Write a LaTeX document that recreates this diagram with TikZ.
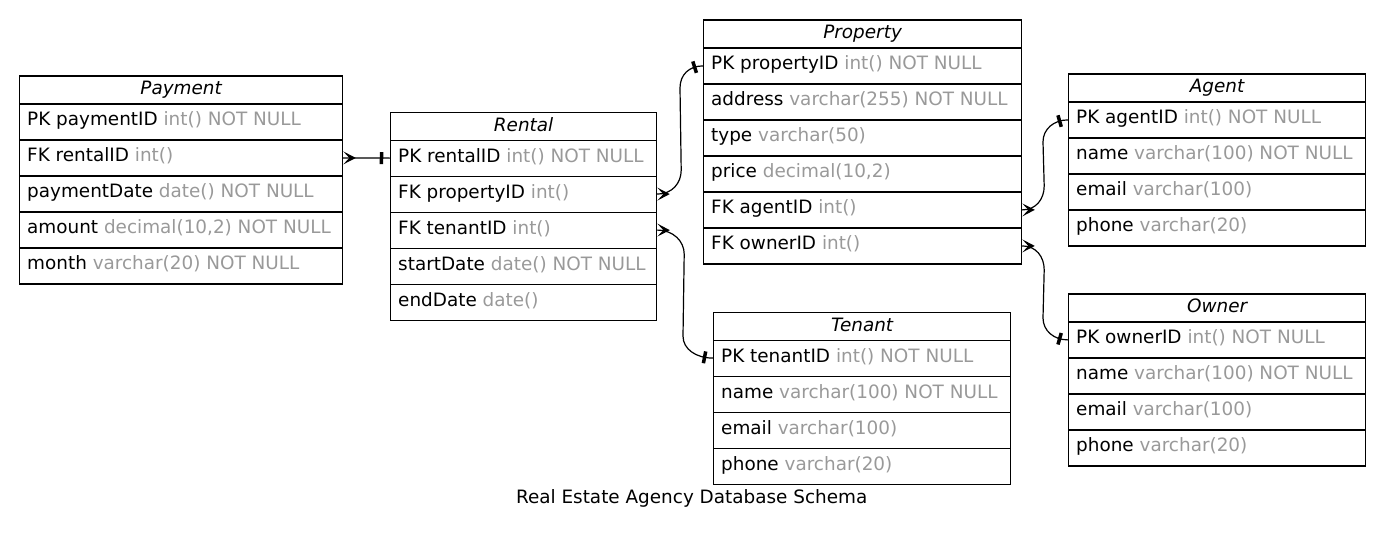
\documentclass[tikz,border=0pt]{standalone}
\usepackage{fontspec}
\setmainfont{DejaVu Sans}
\usetikzlibrary{decorations.markings,calc}
\definecolor{typegray}{RGB}{153,153,153}
\newcommand\dtype[1]{\textcolor{typegray}{#1}}
\newcommand\erdtable[6]{%
  \node[hdrbox, minimum width=#4pt] (#1) at (#2,#3) {\itshape #5};
  \foreach \r [count=\i] in {#6} {
    \node[rowbox, minimum width=#4pt] (#1-\i) at (#2, #3+28+36*\i-36) {};
    \node[rowtext] at ([xshift=8pt,yshift=-22.5pt]#1-\i.north west) {\r};
  }%
}
\begin{document}
\begin{tikzpicture}[x=1pt,y=-1pt,
  every node/.style={font=\fontsize{18.4}{22}\selectfont},
  hdrbox/.style={draw, line width=1.2pt, anchor=north west, inner sep=0pt,
    minimum height=28pt, text height=13.4pt, text depth=3.6pt},
  rowbox/.style={draw, line width=1.2pt, anchor=north west, inner sep=0pt,
    minimum height=36pt},
  rowtext/.style={anchor=base west, inner sep=0pt},
  rel/.style={line width=1.2pt, postaction={decorate, decoration={markings,
    mark=at position 0.1pt with {\fill (0,6.5)--(12.5,0)--(0,-6.5)--(6,0)--cycle;},
    mark=at position -8.5pt with {\draw[line width=3.5pt] (0,-6)--(0,6);}}}}
  ]
\useasboundingbox (0,0) rectangle (1384,533);

\erdtable{pay}{19}{75.3}{323}{Payment}{%
  {PK paymentID \dtype{int() NOT NULL}},
  {FK rentalID \dtype{int()}},
  {paymentDate \dtype{date() NOT NULL}},
  {amount \dtype{decimal(10,2) NOT NULL}},
  {month \dtype{varchar(20) NOT NULL}}}

\erdtable{ren}{390}{111.5}{266}{Rental}{%
  {PK rentalID \dtype{int() NOT NULL}},
  {FK propertyID \dtype{int()}},
  {FK tenantID \dtype{int()}},
  {startDate \dtype{date() NOT NULL}},
  {endDate \dtype{date()}}}

\erdtable{pro}{703}{19.3}{318}{Property}{%
  {PK propertyID \dtype{int() NOT NULL}},
  {address \dtype{varchar(255) NOT NULL}},
  {type \dtype{varchar(50)}},
  {price \dtype{decimal(10,2)}},
  {FK agentID \dtype{int()}},
  {FK ownerID \dtype{int()}}}

\erdtable{age}{1068}{73.3}{297}{Agent}{%
  {PK agentID \dtype{int() NOT NULL}},
  {name \dtype{varchar(100) NOT NULL}},
  {email \dtype{varchar(100)}},
  {phone \dtype{varchar(20)}}}

\erdtable{ten}{713}{311.5}{297}{Tenant}{%
  {PK tenantID \dtype{int() NOT NULL}},
  {name \dtype{varchar(100) NOT NULL}},
  {email \dtype{varchar(100)}},
  {phone \dtype{varchar(20)}}}

\erdtable{own}{1068}{293.3}{297}{Owner}{%
  {PK ownerID \dtype{int() NOT NULL}},
  {name \dtype{varchar(100) NOT NULL}},
  {email \dtype{varchar(100)}},
  {phone \dtype{varchar(20)}}}

\draw[rel] (pay-2.east) -- (ren-1.west);
\draw[rel] (ren-2.east) .. controls +(15,0) and +(0,13) .. ($(ren-2.east)+(24,-24)$)
  -- ($(pro-1.west)+(-23,22)$) .. controls +(0,-13) and +(-14,0) .. (pro-1.west);
\draw[rel] (ren-3.east) .. controls +(16,0) and +(0,-13) .. ($(ren-3.east)+(27,24)$)
  -- ($(ten-1.west)+(-30,-22)$) .. controls +(0,13) and +(-17,0) .. (ten-1.west);
\draw[rel] (pro-5.east) .. controls +(14,0) and +(0,13) .. ($(pro-5.east)+(22,-24)$)
  -- ($(age-1.west)+(-25,22)$) .. controls +(0,-13) and +(-14,0) .. (age-1.west);
\draw[rel] (pro-6.east) .. controls +(14,0) and +(0,-13) .. ($(pro-6.east)+(22,24)$)
  -- ($(own-1.west)+(-25,-22)$) .. controls +(0,13) and +(-14,0) .. (own-1.west);

\node[anchor=base] (caption) at (691.7,503.3) {Real Estate Agency Database Schema};
\end{tikzpicture}
\end{document}
